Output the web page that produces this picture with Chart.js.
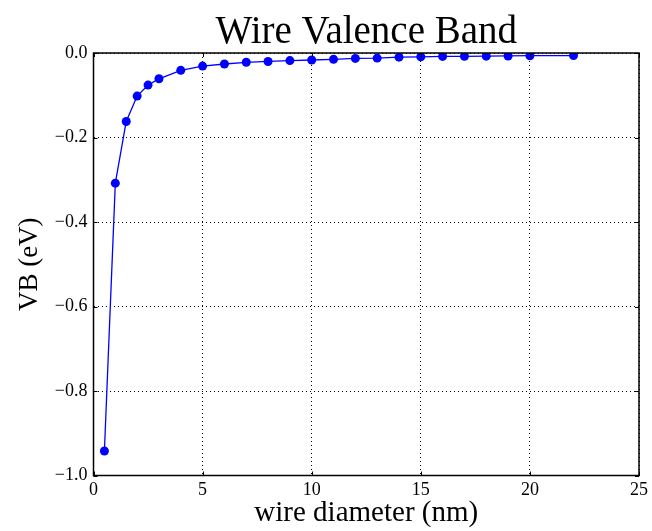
<!DOCTYPE html>
<html>
<head>
<meta charset="utf-8">
<script src="https://cdn.jsdelivr.net/npm/chart.js@4/dist/chart.umd.min.js"></script>
<style>
  html, body { margin: 0; padding: 0; background: #fff; }
  #wrap { width: 652px; height: 531px; }
</style>
</head>
<body>
<div id="wrap"><canvas id="c" width="652" height="531"></canvas></div>
<script>
const diameters = [0.5, 1, 1.5, 2, 2.5, 3, 4, 5, 6, 7, 8, 9, 10, 11, 12, 13, 14, 15, 16, 17, 18, 19, 20, 22];
const vbValues = [-0.942, -0.308, -0.162, -0.102, -0.076, -0.061, -0.041, -0.031, -0.026, -0.022, -0.020, -0.018, -0.0166, -0.015, -0.0128, -0.012, -0.0098, -0.009, -0.008, -0.0078, -0.0075, -0.007, -0.0064, -0.006];
const titleText = 'Wire Valence Band';
const xLabel = 'wire diameter (nm)';
const yLabel = 'VB (eV)';

const FONT = "'Liberation Serif', 'DejaVu Serif', serif";

const boxPlugin = {
  id: 'box',
  afterDraw(chart) {
    const { ctx, chartArea: a, scales } = chart;
    ctx.save();
    ctx.strokeStyle = '#000';
    ctx.lineWidth = 1;
    const tl = 4;
    ctx.beginPath();
    scales.x.ticks.forEach(t => {
      const px = Math.round(scales.x.getPixelForValue(t.value)) + 0.5;
      ctx.moveTo(px, a.bottom); ctx.lineTo(px, a.bottom - tl);
      ctx.moveTo(px, a.top); ctx.lineTo(px, a.top + tl);
    });
    scales.y.ticks.forEach(t => {
      const py = Math.round(scales.y.getPixelForValue(t.value)) + 0.5;
      ctx.moveTo(a.left, py); ctx.lineTo(a.left + tl, py);
      ctx.moveTo(a.right, py); ctx.lineTo(a.right - tl, py);
    });
    ctx.stroke();
    ctx.lineWidth = 1.5;
    ctx.strokeRect(a.left, a.top, a.right - a.left, a.bottom - a.top);
    // title centred over the plot area
    ctx.fillStyle = '#000';
    ctx.font = '39px ' + FONT;
    ctx.textAlign = 'center';
    ctx.textBaseline = 'alphabetic';
    ctx.fillText(titleText, (a.left + a.right) / 2, 43);
    ctx.restore();
  }
};

new Chart(document.getElementById('c'), {
  type: 'line',
  data: {
    datasets: [{
      data: diameters.map((d, i) => ({ x: d, y: vbValues[i] })),
      borderColor: '#0000ff',
      backgroundColor: '#0000ff',
      borderWidth: 1.3,
      pointRadius: 4.5,
      pointBackgroundColor: '#0000ff',
      pointBorderColor: '#0000ff',
      pointBorderWidth: 0,
      tension: 0,
      fill: false
    }]
  },
  options: {
    responsive: false,
    animation: false,
    devicePixelRatio: 1,
    layout: { padding: { left: 0, right: 13, top: 53, bottom: 0 } },
    plugins: {
      legend: { display: false },
      tooltip: { enabled: false },
      title: { display: false }
    },
    scales: {
      x: {
        type: 'linear',
        min: 0, max: 25,
        ticks: {
          stepSize: 5,
          color: '#000',
          font: { family: FONT, size: 18 },
          padding: 4,
          maxRotation: 0,
          callback: v => String(v)
        },
        grid: { color: '#000', lineWidth: 1, drawTicks: false },
        border: { display: true, color: '#000', width: 1, dash: [1, 3] },
        title: {
          display: true,
          text: xLabel,
          color: '#000',
          font: { family: FONT, size: 29 },
          padding: { top: 3, bottom: 0 }
        },
        afterFit(s) { s.height = 55.5; }
      },
      y: {
        type: 'linear',
        min: -1, max: 0,
        ticks: {
          stepSize: 0.2,
          color: '#000',
          font: { family: FONT, size: 18 },
          padding: 6,
          callback: v => {
            const s = Math.abs(v).toFixed(1);
            return (v < -1e-9 ? '\u2212' : '') + s;
          }
        },
        grid: { color: '#000', lineWidth: 1, drawTicks: false },
        border: { display: true, color: '#000', width: 1, dash: [1, 3] },
        title: {
          display: true,
          text: yLabel,
          color: '#000',
          font: { family: FONT, size: 27 },
          padding: { top: 14, bottom: 8 }
        },
        afterFit(s) { s.width = 93.5; }
      }
    }
  },
  plugins: [boxPlugin]
});
</script>
</body>
</html>
